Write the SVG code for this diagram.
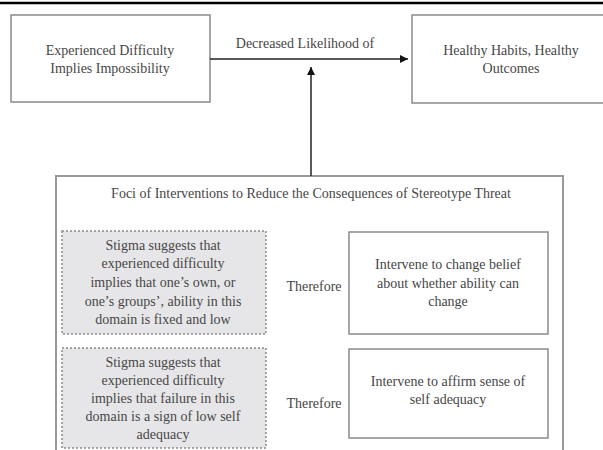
<svg xmlns="http://www.w3.org/2000/svg" width="603" height="450" viewBox="0 0 603 450">
<style>
text{font-family:"Liberation Serif","Times New Roman",serif;font-size:14px;fill:#464646;text-anchor:middle}
.box{fill:#fff;stroke:#8a8a8a;stroke-width:1.5}
.dot{fill:#e6e6e8;stroke:#8a8a8a;stroke-width:1.5;stroke-dasharray:2 2}
.big{fill:#fff;stroke:#999;stroke-width:2}
.conn{stroke:#222;stroke-width:1.5;fill:none}
</style>
<defs>
<marker id="ah" viewBox="0 0 10 10" refX="10" refY="5" markerWidth="8" markerHeight="8" markerUnits="userSpaceOnUse" orient="auto">
<path d="M0,0 L10,5 L0,10 z" fill="#111"/>
</marker>
</defs>
<rect x="0" y="0" width="603" height="450" fill="#fff"/>
<line x1="0" y1="3" x2="603" y2="3" stroke="#000" stroke-width="2.5"/>
<g id="n-difficulty">
<rect class="box" x="11" y="15" width="199" height="87"/>
<text x="110" y="55">Experienced Difficulty</text>
<text x="110" y="73">Implies Impossibility</text>
</g>
<g id="n-healthy">
<rect class="box" x="412" y="15" width="200" height="88"/>
<text x="511" y="55">Healthy Habits, Healthy</text>
<text x="511" y="73">Outcomes</text>
</g>
<g id="n-foci">
<rect class="big" x="56" y="176" width="507" height="290"/>
<text x="311" y="198">Foci of Interventions to Reduce the Consequences of Stereotype Threat</text>
</g>
<g id="n-stigma1">
<rect class="dot" x="62" y="231" width="204" height="103"/>
<text x="163" y="250">Stigma suggests that</text>
<text x="163" y="268">experienced difficulty</text>
<text x="163" y="287">implies that one’s own, or</text>
<text x="163" y="306">one’s groups’, ability in this</text>
<text x="163" y="324">domain is fixed and low</text>
</g>
<g id="n-stigma2">
<rect class="dot" x="62" y="348" width="204" height="100"/>
<text x="163" y="367">Stigma suggests that</text>
<text x="163" y="385">experienced difficulty</text>
<text x="163" y="403">implies that failure in this</text>
<text x="163" y="421">domain is a sign of low self</text>
<text x="163" y="439">adequacy</text>
</g>
<g id="n-change">
<rect class="box" x="349" y="232" width="199" height="102"/>
<text x="448" y="269">Intervene to change belief</text>
<text x="448" y="288">about whether ability can</text>
<text x="448" y="306">change</text>
</g>
<g id="n-affirm">
<rect class="box" x="349" y="349" width="199" height="89"/>
<text x="448" y="386">Intervene to affirm sense of</text>
<text x="448" y="404">self adequacy</text>
</g>
<g id="connectors">
<line class="conn" x1="210" y1="59" x2="408" y2="59" marker-end="url(#ah)"/>
<text x="305" y="48">Decreased Likelihood of</text>
<line class="conn" x1="311" y1="176" x2="311" y2="67" marker-end="url(#ah)"/>
<text x="314" y="291">Therefore</text>
<text x="314" y="408">Therefore</text>
</g>
</svg>
